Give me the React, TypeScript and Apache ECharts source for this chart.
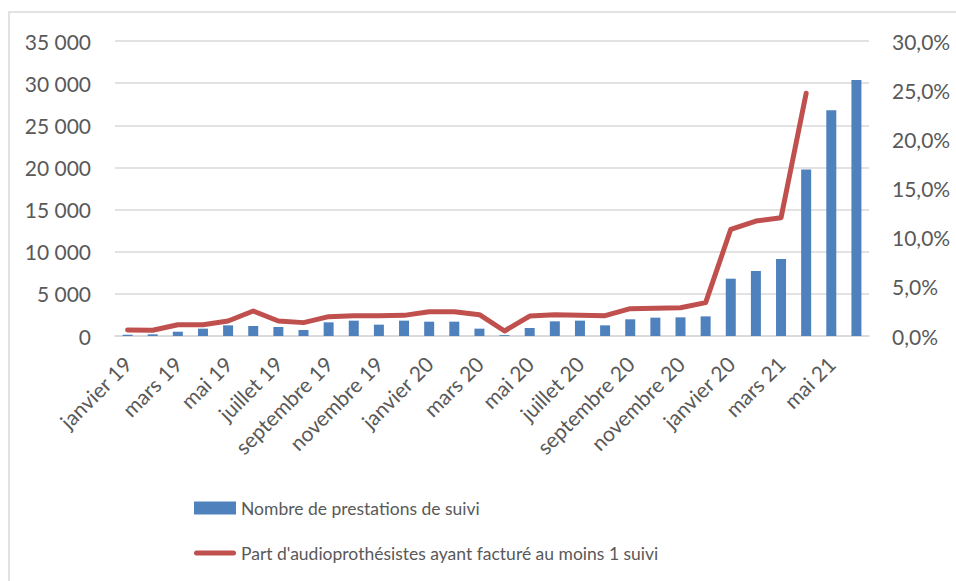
import React, { useEffect, useRef } from "react";
import * as echarts from "echarts";

const categories = [
  "janvier 19", "février 19", "mars 19", "avril 19", "mai 19", "juin 19",
  "juillet 19", "août 19", "septembre 19", "octobre 19", "novembre 19", "décembre 19",
  "janvier 20", "février 20", "mars 20", "avril 20", "mai 20", "juin 20",
  "juillet 20", "août 20", "septembre 20", "octobre 20", "novembre 20", "décembre 20",
  "janvier 20", "février 21", "mars 21", "avril 21", "mai 21", "juin 21",
];

const prestations = [
  150, 200, 510, 870, 1265, 1190, 1070, 710, 1620, 1820, 1345, 1820,
  1700, 1700, 870, 100, 950, 1740, 1820, 1265, 1980, 2175, 2215, 2330,
  6800, 7710, 9140, 19740, 26780, 30380,
];

const partAudio = [
  0.61, 0.58, 1.15, 1.15, 1.53, 2.54, 1.53, 1.36, 1.97, 2.07, 2.07, 2.1,
  2.47, 2.47, 2.17, 0.51, 2.03, 2.17, 2.1, 2.07, 2.78, 2.81, 2.88, 3.39,
  10.85, 11.69, 12.03, 24.68, null, null,
];

const barName = "Nombre de prestations de suivi";
const lineName = "Part d'audioprothésistes ayant facturé au moins 1 suivi";

const FONT = "Lato";
const TXT = "#595959";
const LINE_ICON =
  "path://M2.5,0 L39.5,0 A2.5,2.5 0 0 1 39.5,5 L2.5,5 A2.5,2.5 0 0 1 2.5,0 Z";

export default function App() {
  const ref = useRef<HTMLDivElement>(null);
  useEffect(() => {
    if (!ref.current) return;
    const chart = echarts.init(ref.current, undefined, { renderer: "svg" });
    chart.setOption({
      animation: false,
      backgroundColor: "#ffffff",
      textStyle: { fontFamily: FONT, color: TXT },
      graphic: [
        {
          type: "rect",
          shape: { x: 9, y: 12, width: 1200, height: 1200 },
          style: { fill: "none", stroke: "#d9d9d9", lineWidth: 1.5 },
          silent: true,
        },
      ],
      grid: { left: 115, right: 87, top: 41, bottom: 245 },
      legend: {
        orient: "vertical",
        left: 194,
        top: 498,
        padding: 0,
        itemGap: 25,
        itemWidth: 42,
        itemHeight: 13,
        textStyle: { fontFamily: FONT, fontSize: 17.5, color: TXT, lineHeight: 20 },
        data: [
          { name: barName, icon: "rect" },
          { name: lineName, icon: LINE_ICON, itemStyle: { color: "#C0504D" } },
        ],
      },
      xAxis: {
        type: "category",
        data: categories,
        axisTick: { show: false },
        axisLine: { lineStyle: { color: "#d9d9d9", width: 1.5 } },
        axisLabel: {
          interval: 1,
          rotate: 45,
          margin: 24,
          fontFamily: FONT,
          fontSize: 21,
          color: TXT,
        },
      },
      yAxis: [
        {
          type: "value",
          min: 0,
          max: 35000,
          interval: 5000,
          axisLine: { show: false },
          axisTick: { show: false },
          splitLine: { lineStyle: { color: "#d9d9d9", width: 1.5 } },
          axisLabel: {
            margin: 24,
            fontFamily: FONT,
            fontSize: 21,
            color: TXT,
            formatter: (v: number) =>
              String(v).replace(/\B(?=(\d{3})+(?!\d))/g, " "),
          },
        },
        {
          type: "value",
          min: 0,
          max: 30,
          interval: 5,
          axisLine: { show: false },
          axisTick: { show: false },
          splitLine: { show: false },
          axisLabel: {
            margin: 23,
            fontFamily: FONT,
            fontSize: 21,
            color: TXT,
            formatter: (v: number) => v.toFixed(1).replace(".", ",") + "%",
          },
        },
      ],
      series: [
        {
          name: barName,
          type: "bar",
          data: prestations,
          barWidth: 10,
          itemStyle: { color: "#4F81BD" },
          yAxisIndex: 0,
        },
        {
          name: lineName,
          type: "line",
          data: partAudio,
          yAxisIndex: 1,
          symbol: "none",
          connectNulls: false,
          itemStyle: { color: "#C0504D" },
          lineStyle: { color: "#C0504D", width: 5, cap: "round", join: "round" },
        },
      ],
    });
    return () => chart.dispose();
  }, []);
  return (
    <div
      ref={ref}
      style={{ position: "fixed", left: 0, top: 0, width: 956, height: 581 }}
    />
  );
}
